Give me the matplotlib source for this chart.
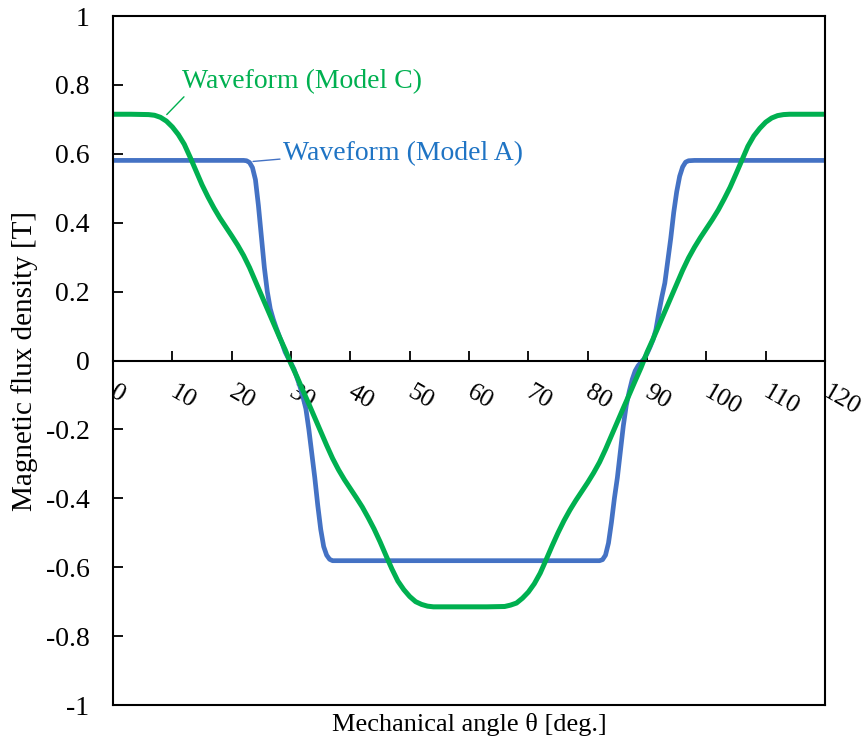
import matplotlib
matplotlib.use("Agg")
import matplotlib.pyplot as plt
import matplotlib.transforms as mtransforms

plt.rcParams["font.family"] = ["Liberation Serif", "DejaVu Serif"]

# Model A: flux density along the mechanical angle
angle_a = [0, 10, 20, 22, 22.5, 23, 23.5, 24, 24.5, 25, 25.5, 26, 26.5, 27, 27.5,
           28, 28.5, 29, 29.5, 30, 30.5, 31, 31.5, 32, 32.5, 33, 33.5, 34, 34.5,
           35, 35.5, 36, 36.5, 37, 38, 50, 60, 70, 82, 82.5, 83, 83.5, 84, 84.5,
           85, 85.5, 86, 86.5, 87, 87.5, 88, 88.5, 89, 89.5, 90, 90.5, 91, 91.5,
           92, 92.5, 93, 93.5, 94, 94.5, 95, 95.5, 96, 96.5, 97, 98, 110, 120]
flux_a = [0.581, 0.581, 0.581, 0.581, 0.580, 0.575, 0.560, 0.525, 0.450, 0.360,
          0.270, 0.200, 0.150, 0.120, 0.095, 0.072, 0.050, 0.025, 0.008, -0.008,
          -0.025, -0.050, -0.075, -0.105, -0.140, -0.200, -0.270, -0.340, -0.420,
          -0.490, -0.540, -0.565, -0.577, -0.581, -0.581, -0.581, -0.581, -0.581,
          -0.581, -0.578, -0.565, -0.530, -0.470, -0.400, -0.340, -0.265, -0.190,
          -0.130, -0.090, -0.055, -0.030, -0.015, -0.005, 0.005, 0.020, 0.039,
          0.060, 0.090, 0.140, 0.185, 0.225, 0.290, 0.355, 0.430, 0.490, 0.535,
          0.562, 0.576, 0.580, 0.581, 0.581, 0.581]

# Model C: flux density along the mechanical angle
angle_c = [0, 3, 6, 7, 8, 9, 10, 11, 12, 13, 14, 15, 16, 17, 18, 19, 20, 21, 22,
           23, 24, 25, 26, 27, 28, 29, 30, 31, 32, 33, 34, 35, 36, 37, 38, 39, 40,
           41, 42, 43, 44, 45, 46, 47, 48, 49, 50, 51, 52, 53, 54, 57, 60, 63, 66,
           67, 68, 69, 70, 71, 72, 73, 74, 75, 76, 77, 78, 79, 80, 81, 82, 83, 84,
           85, 86, 87, 88, 89, 90, 91, 92, 93, 94, 95, 96, 97, 98, 99, 100, 101,
           102, 103, 104, 105, 106, 107, 108, 109, 110, 111, 112, 113, 114, 117, 120]
flux_c = [0.715, 0.715, 0.714, 0.712, 0.706, 0.695, 0.678, 0.656, 0.628, 0.590,
          0.550, 0.510, 0.475, 0.443, 0.414, 0.388, 0.362, 0.335, 0.305, 0.270,
          0.230, 0.190, 0.150, 0.110, 0.070, 0.032, -0.010, -0.047, -0.087, -0.126,
          -0.166, -0.206, -0.246, -0.284, -0.317, -0.346, -0.372, -0.398, -0.425,
          -0.456, -0.489, -0.526, -0.566, -0.605, -0.640, -0.665, -0.685, -0.700,
          -0.708, -0.713, -0.715, -0.715, -0.715, -0.715, -0.714, -0.710, -0.704,
          -0.690, -0.672, -0.648, -0.617, -0.578, -0.538, -0.500, -0.465, -0.434,
          -0.406, -0.380, -0.354, -0.326, -0.295, -0.258, -0.218, -0.178, -0.138,
          -0.099, -0.059, -0.020, 0.024, 0.062, 0.102, 0.142, 0.182, 0.222, 0.262,
          0.298, 0.329, 0.357, 0.383, 0.409, 0.437, 0.469, 0.503, 0.542, 0.582,
          0.622, 0.652, 0.674, 0.692, 0.704, 0.711, 0.714, 0.715, 0.715, 0.715]

x_ticks = list(range(0, 121, 10))
y_ticks = [-1, -0.8, -0.6, -0.4, -0.2, 0, 0.2, 0.4, 0.6, 0.8, 1]
y_tick_labels = ["-1", "-0.8", "-0.6", "-0.4", "-0.2", "0", "0.2", "0.4", "0.6", "0.8", "1"]

fig = plt.figure(figsize=(8.63, 7.44), dpi=100)
ax = fig.add_axes([0.131, 0.0524, 0.825, 0.926])

ax.plot(angle_a, flux_a, color="#4472C4", lw=3.4,
        solid_capstyle="round", solid_joinstyle="round")
ax.plot(angle_c, flux_c, color="#00B050", lw=3.6,
        solid_capstyle="round", solid_joinstyle="round")

ax.set_xlim(0, 120)
ax.set_ylim(-1, 1)

# horizontal axis crosses at zero, frame closed below
for side in ["left", "right", "top", "bottom"]:
    ax.spines[side].set_linewidth(1.5)
ax.spines["bottom"].set_position(("data", 0))
ax.axhline(-1, color="black", lw=1.5, clip_on=False)

ax.set_xticks(x_ticks)
ax.set_yticks(y_ticks)
ax.set_yticklabels(y_tick_labels, fontsize=20)
ax.tick_params(axis="x", direction="in", length=7, width=1.3, pad=15)
ax.tick_params(axis="y", direction="in", length=7, width=1.3, pad=17)
ax.set_xticklabels([str(v) for v in x_ticks], rotation=-30, ha="left", va="top",
                   rotation_mode="anchor", fontsize=18.5)
# nudge the slanted angle labels to the right of their ticks
shift = mtransforms.ScaledTranslation(3.5 / 72, 0, fig.dpi_scale_trans)
for lbl in ax.get_xticklabels():
    lbl.set_transform(lbl.get_transform() + shift)

ax.set_xlabel("Mechanical angle θ [deg.]", fontsize=19)
ax.xaxis.set_label_coords(0.5, -0.012)
ax.set_ylabel("Magnetic flux density [T]", fontsize=21)
ax.yaxis.set_label_coords(-0.105, 0.5)

# curve callouts
ax.annotate("Waveform (Model C)", xy=(9.05, 0.714), xytext=(11.6, 0.81),
            color="#00B050", fontsize=20, va="center", ha="left",
            arrowprops=dict(arrowstyle="-", color="#00B050", lw=1,
                            shrinkA=0, shrinkB=0, relpos=(0.03, 0.1)))
ax.annotate("Waveform (Model A)", xy=(23.6, 0.578), xytext=(28.6, 0.6),
            color="#1F74C4", fontsize=20, va="center", ha="left",
            arrowprops=dict(arrowstyle="-", color="#4472C4", lw=1,
                            shrinkA=0, shrinkB=0, relpos=(0.0, 0.3)))

fig.savefig("out.png", dpi=100)
